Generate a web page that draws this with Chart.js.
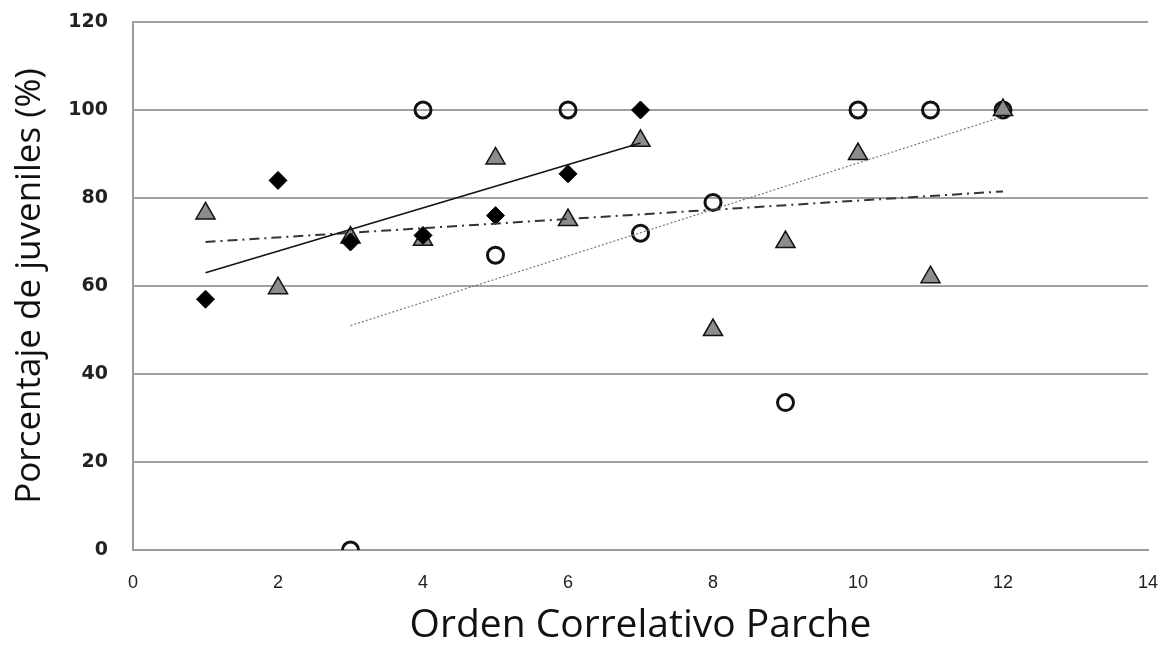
<!DOCTYPE html>
<html>
<head>
<meta charset="utf-8">
<script src="https://cdn.jsdelivr.net/npm/chart.js@4"></script>
<style>
  html, body { margin: 0; padding: 0; background: #fff; }
  #wrap { width: 1168px; height: 645px; }
</style>
</head>
<body>
<div id="wrap"><canvas id="grafico" width="1168" height="645"></canvas></div>
<script>
// Datos
const xDiamantes = [1, 2, 3, 4, 5, 6, 7];
const yDiamantes = [57, 84, 70, 71.5, 76, 85.5, 100];

const xTriangulos = [1, 2, 3, 4, 5, 6, 7, 8, 9, 10, 11, 12];
const yTriangulos = [76.5, 59.5, 71, 70.5, 89, 75, 93, 50, 70, 90, 62, 100];

const xCirculos = [3, 4, 5, 6, 7, 8, 9, 10, 11, 12];
const yCirculos = [0, 100, 67, 100, 72, 79, 33.5, 100, 100, 100];

// Extremos de las líneas de tendencia
const tendDiamantesX = [1, 7];
const tendDiamantesY = [63, 92.5];
const tendTriangulosX = [1, 12];
const tendTriangulosY = [70, 81.5];
const tendCirculosX = [3, 12];
const tendCirculosY = [51, 98.5];

const xTicks = [0, 2, 4, 6, 8, 10, 12, 14];
const yTicks = [0, 20, 40, 60, 80, 100, 120];

const puntos = (xs, ys) => xs.map((x, i) => ({ x: x, y: ys[i] }));

const ctx = document.getElementById('grafico').getContext('2d');

new Chart(ctx, {
  type: 'scatter',
  data: {
    datasets: [
      {
        label: 'Tendencia diamantes',
        data: puntos(tendDiamantesX, tendDiamantesY),
        showLine: true,
        borderColor: '#111',
        borderWidth: 1.5,
        pointRadius: 0
      },
      {
        label: 'Tendencia triángulos',
        data: puntos(tendTriangulosX, tendTriangulosY),
        showLine: true,
        borderColor: '#333',
        borderWidth: 2,
        borderDash: [10, 5, 2, 5],
        pointRadius: 0
      },
      {
        label: 'Tendencia círculos',
        data: puntos(tendCirculosX, tendCirculosY),
        showLine: true,
        borderColor: '#777',
        borderWidth: 1.2,
        borderDash: [2, 2],
        pointRadius: 0
      },
      {
        label: 'Diamantes',
        data: puntos(xDiamantes, yDiamantes),
        pointStyle: 'rectRot',
        pointRadius: 9,
        backgroundColor: '#000',
        borderColor: '#000',
        borderWidth: 1
      },
      {
        label: 'Triángulos',
        data: puntos(xTriangulos, yTriangulos),
        pointStyle: 'triangle',
        pointRadius: 11,
        backgroundColor: '#8c8c8c',
        borderColor: '#111',
        borderWidth: 1.5
      },
      {
        label: 'Círculos',
        data: puntos(xCirculos, yCirculos),
        pointStyle: 'circle',
        pointRadius: 8,
        backgroundColor: 'rgba(255,255,255,0)',
        borderColor: '#111',
        borderWidth: 3
      }
    ]
  },
  options: {
    responsive: false,
    animation: false,
    layout: { autoPadding: false, padding: { left: 0, right: 20, top: 22, bottom: 0 } },
    plugins: {
      legend: { display: false },
      tooltip: { enabled: false }
    },
    scales: {
      x: {
        type: 'linear',
        min: 0,
        max: 14,
        afterBuildTicks: (scale) => { scale.ticks = xTicks.map(v => ({ value: v })); },
        afterFit: (scale) => {
          scale.height = 95;
          scale.paddingLeft = 0;
          scale.paddingRight = 0;
        },
        grid: { display: false, drawTicks: false },
        border: { display: true, color: '#9a9a9a', width: 2 },
        ticks: {
          padding: 22,
          color: '#222',
          font: { family: 'Liberation Sans Narrow, Liberation Sans', size: 18 }
        },
        title: {
          display: true,
          text: 'Orden Correlativo Parche',
          color: '#111',
          padding: { top: 0, bottom: 0 },
          font: { family: 'Open Sans', size: 39, lineHeight: 1.0 }
        }
      },
      y: {
        type: 'linear',
        min: 0,
        max: 120,
        afterBuildTicks: (scale) => { scale.ticks = yTicks.map(v => ({ value: v })); },
        afterFit: (scale) => {
          scale.width = 133;
          scale.paddingTop = 0;
          scale.paddingBottom = 0;
        },
        grid: { color: '#a0a0a0', lineWidth: 2, drawTicks: false },
        border: { display: true, color: '#9a9a9a', width: 2 },
        ticks: {
          padding: 25,
          color: '#222',
          font: { family: 'DejaVu Sans', size: 19, weight: 'bold' }
        },
        title: {
          display: true,
          text: 'Porcentaje de juveniles (%)',
          color: '#111',
          padding: { top: 9, bottom: 0 },
          font: { family: 'Open Sans', size: 35 }
        }
      }
    }
  }
});
</script>
</body>
</html>
